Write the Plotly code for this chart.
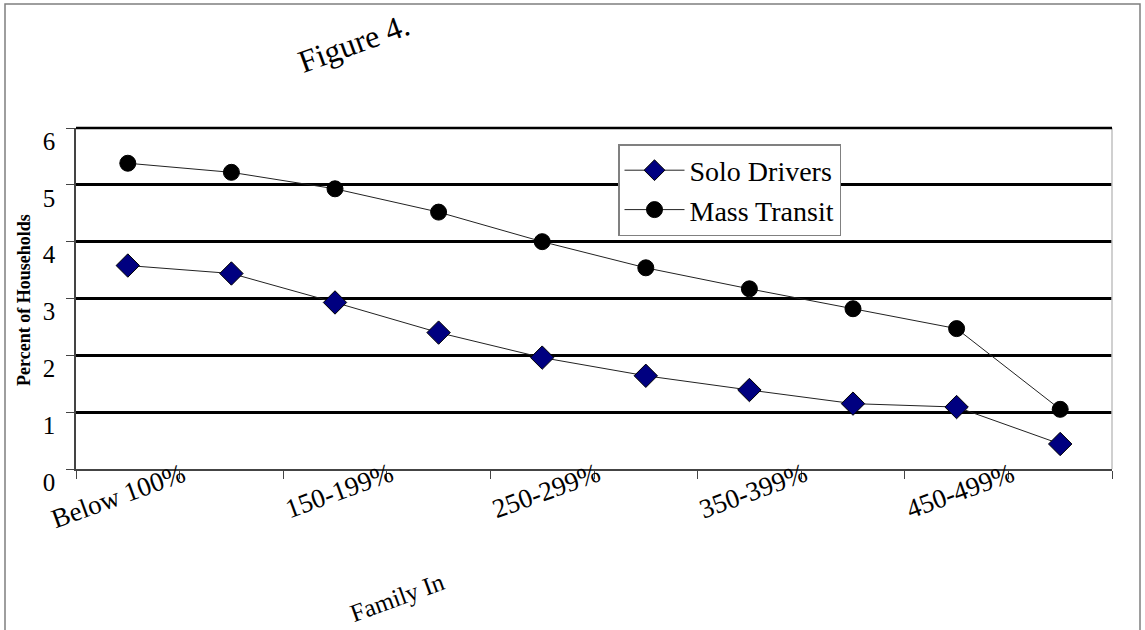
import plotly.graph_objects as go

# ---- data ----
categories = ["Below 100%", "100-149%", "150-199%", "200-249%", "250-299%",
              "300-349%", "350-399%", "400-449%", "450-499%", "500% and Above"]
solo_drivers = [3.58, 3.44, 2.93, 2.40, 1.96, 1.64, 1.39, 1.15, 1.09, 0.44]
mass_transit = [5.38, 5.22, 4.93, 4.52, 4.00, 3.54, 3.17, 2.82, 2.47, 1.05]
shown_labels = ["Below 100%", "150-199%", "250-299%", "350-399%", "450-499%"]
y_ticks = [0, 1, 2, 3, 4, 5, 6]

W, H = 1145, 630
L, R, T, B = 76, 1112, 128, 469   # plot area in px
FONT = "Liberation Serif"

def px_x(p):
    return (p - L) / (R - L)

def px_y(p):
    return (B - p) / (B - T)

fig = go.Figure()
fig.add_trace(go.Scatter(
    x=categories, y=solo_drivers, name="Solo Drivers", mode="lines+markers",
    line=dict(color="#222222", width=1),
    marker=dict(symbol="diamond", size=18, color="#000080",
                line=dict(color="#000000", width=1)),
))
fig.add_trace(go.Scatter(
    x=categories, y=mass_transit, name="Mass Transit", mode="lines+markers",
    line=dict(color="#222222", width=1),
    marker=dict(symbol="circle", size=16, color="#000000",
                line=dict(color="#000000", width=1)),
))

annotations = []
for lab in shown_labels:
    annotations.append(dict(
        x=lab, y=0, xref="x", yref="y", text=lab, showarrow=False,
        textangle=-20, xanchor="right", yanchor="top", xshift=64, yshift=14,
        font=dict(family=FONT, size=27, color="#000000")))
annotations += [
    dict(x=px_x(354), y=px_y(43), xref="paper", yref="paper", text="Figure 4.",
         xanchor="center", yanchor="middle",
         showarrow=False, textangle=-20, font=dict(family=FONT, size=32, color="#000")),
    dict(x=px_x(397), y=px_y(597), xref="paper", yref="paper", text="Family In",
         xanchor="center", yanchor="middle",
         showarrow=False, textangle=-20, font=dict(family=FONT, size=25, color="#000")),
    dict(x=px_x(24), y=px_y(300), xref="paper", yref="paper", text="<b>Percent of Households</b>",
         xanchor="center", yanchor="middle",
         showarrow=False, textangle=-90, font=dict(family=FONT, size=18, color="#000")),
]

shapes = [
    # outer frame
    dict(type="rect", xref="paper", yref="paper",
         x0=px_x(5), x1=px_x(1140), y0=px_y(660), y1=px_y(4),
         line=dict(color="#7f7f7f", width=1.5), layer="below"),
    # right edge of plot area
    dict(type="line", xref="paper", yref="paper", x0=1, x1=1, y0=0, y1=1,
         line=dict(color="#c0c0c0", width=1.5)),
    # top edge of plot area (heavy, like the gridlines)
    dict(type="line", xref="paper", yref="paper", x0=0, x1=1, y0=1, y1=1,
         line=dict(color="#000000", width=2.5)),
]

fig.update_layout(
    width=W, height=H,
    margin=dict(l=L, r=W - R, t=T, b=H - B, pad=0),
    paper_bgcolor="white", plot_bgcolor="white",
    font=dict(family=FONT, size=24, color="#000000"),
    showlegend=True,
    legend=dict(x=px_x(618), y=px_y(144), xanchor="left", yanchor="top",
                bgcolor="white", bordercolor="#808080", borderwidth=1.5,
                font=dict(family=FONT, size=28, color="#000"),
                itemwidth=60, entrywidth=225, tracegroupgap=0),
    annotations=annotations,
    shapes=shapes,
)
fig.update_xaxes(
    type="category", range=[-0.5, len(categories) - 0.5],
    tickson="boundaries", ticks="outside", ticklen=8, tickcolor="#444444",
    showticklabels=False, showgrid=False, zeroline=False,
    showline=True, linecolor="#444444", linewidth=1.5,
)
fig.update_yaxes(
    range=[0, 6], tickvals=y_ticks, ticktext=[str(v) for v in y_ticks],
    ticks="outside", ticklen=8, tickcolor="#444444",
    showgrid=True, gridcolor="#000000", gridwidth=2.5, zeroline=False,
    showline=True, linecolor="#444444", linewidth=1.5,
    ticklabelshift=13, ticklabelstandoff=6,
    tickfont=dict(family=FONT, size=25, color="#000"),
)

fig.write_html("out.html")
